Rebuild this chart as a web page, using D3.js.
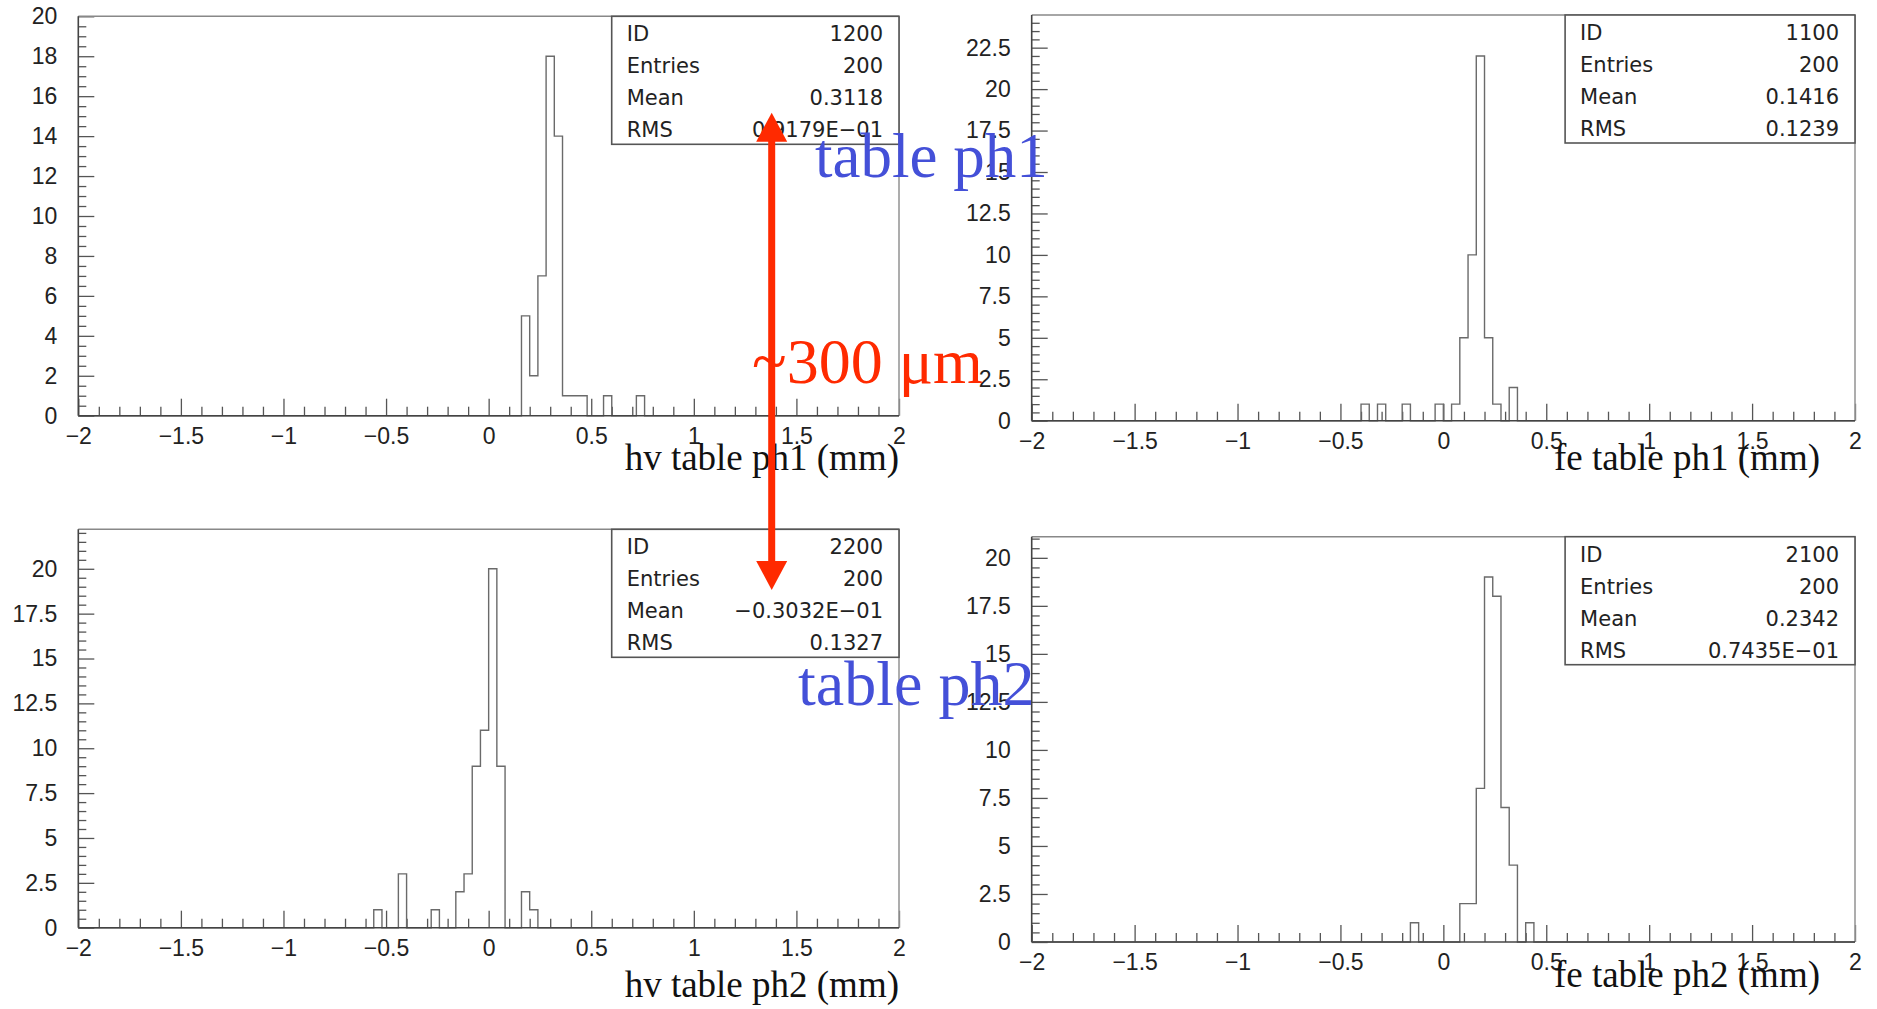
<!DOCTYPE html>
<html>
<head>
<meta charset="utf-8">
<script src="https://cdn.jsdelivr.net/npm/d3@7"></script>
<style>
  html, body { margin: 0; padding: 0; background: #fff; }
  svg { display: block; }
</style>
</head>
<body>
<svg id="chart" width="1877" height="1009"></svg>
<script>
// ---------------- DATA ----------------
// Histograms: 100 bins of width 0.04 from -2 to 2; only non-empty bins listed (lower edge, count)
const h1200Lo  = [0.16, 0.20, 0.24, 0.28, 0.32, 0.36, 0.40, 0.44, 0.56, 0.72];
const h1200Cnt = [5, 2, 7, 18, 14, 1, 1, 1, 1, 1];

const h1100Lo  = [-0.40, -0.32, -0.20, -0.04, 0.04, 0.08, 0.12, 0.16, 0.20, 0.24, 0.32];
const h1100Cnt = [1, 1, 1, 1, 1, 5, 10, 22, 5, 1, 2];

const h2200Lo  = [-0.56, -0.44, -0.28, -0.16, -0.12, -0.08, -0.04, 0.00, 0.04, 0.16, 0.20];
const h2200Cnt = [1, 3, 1, 2, 3, 9, 11, 20, 9, 2, 1];

const h2100Lo  = [-0.16, 0.08, 0.12, 0.16, 0.20, 0.24, 0.28, 0.32, 0.40];
const h2100Cnt = [1, 2, 2, 8, 19, 18, 7, 4, 1];

const xMin = -2, xMax = 2, binWidth = 0.04;
const xMajorTicks = [-2, -1.5, -1, -0.5, 0, 0.5, 1, 1.5, 2];
const xTickLabels = ["\u22122", "\u22121.5", "\u22121", "\u22120.5", "0", "0.5", "1", "1.5", "2"];

const yMaxes = [20, 24.47, 22.2, 21.1];
const yMajorStep = [2, 2.5, 2.5, 2.5];
const yMinorStep = 0.5;

const statLabels = ["ID", "Entries", "Mean", "RMS"];
const stats1200 = ["1200", "200", "0.3118", "0.9179E\u221201"];
const stats1100 = ["1100", "200", "0.1416", "0.1239"];
const stats2200 = ["2200", "200", "\u22120.3032E\u221201", "0.1327"];
const stats2100 = ["2100", "200", "0.2342", "0.7435E\u221201"];

const xTitles = ["hv table ph1 (mm)", "fe table ph1 (mm)", "hv table ph2 (mm)", "fe table ph2 (mm)"];
const annPh1 = "table ph1";
const annPh2 = "table ph2";
const annShift = "~300 \u03bcm";

// ---------------- LAYOUT ----------------
const panels = [
  { lo: h1200Lo, cnt: h1200Cnt, stats: stats1200, title: xTitles[0], ymax: yMaxes[0], ystep: yMajorStep[0],
    left: 78.3, right: 899, top: 16.3, bottom: 415.7, titleX: 899, titleY: 470 },
  { lo: h1100Lo, cnt: h1100Cnt, stats: stats1100, title: xTitles[1], ymax: yMaxes[1], ystep: yMajorStep[1],
    left: 1031.7, right: 1855, top: 15, bottom: 420.7, titleX: 1820, titleY: 470 },
  { lo: h2200Lo, cnt: h2200Cnt, stats: stats2200, title: xTitles[2], ymax: yMaxes[2], ystep: yMajorStep[2],
    left: 78.3, right: 899, top: 529.3, bottom: 927.7, titleX: 899, titleY: 997 },
  { lo: h2100Lo, cnt: h2100Cnt, stats: stats2100, title: xTitles[3], ymax: yMaxes[3], ystep: yMajorStep[3],
    left: 1031.7, right: 1855, top: 536.7, bottom: 942, titleX: 1820, titleY: 987 }
];

const svg = d3.select("#chart");
const TICK_FONT = "'Liberation Sans', Arial, Helvetica, sans-serif";
const STAT_FONT = "'DejaVu Sans', 'Noto Sans', sans-serif";
const SERIF = "'Liberation Serif', 'Times New Roman', serif";

function range(a, b, step) {
  const out = [];
  const n = Math.round((b - a) / step);
  for (let i = 0; i <= n; i++) out.push(+(a + i * step).toFixed(6));
  return out;
}

panels.forEach(p => {
  const g = svg.append("g");
  const x = d3.scaleLinear().domain([xMin, xMax]).range([p.left, p.right]);
  const y = d3.scaleLinear().domain([0, p.ymax]).range([p.bottom, p.top]);

  // full histogram (100 bins)
  const nb = Math.round((xMax - xMin) / binWidth);
  const counts = new Array(nb).fill(0);
  p.lo.forEach((lo, i) => {
    const k = Math.round((lo - xMin) / binWidth);
    counts[k] = p.cnt[i];
  });
  const pts = [];
  counts.forEach((c, k) => {
    const a = xMin + k * binWidth, b = a + binWidth;
    pts.push([a, c]); pts.push([b, c]);
  });
  pts.unshift([xMin, 0]);
  pts.push([xMax, 0]);

  // minor ticks x
  const xMinor = range(xMin, xMax, 0.1).filter(v => Math.abs(v * 2 - Math.round(v * 2)) > 1e-6);
  g.append("g")
    .attr("transform", `translate(0,${p.bottom})`)
    .call(d3.axisBottom(x).tickValues(xMinor).tickSize(-9).tickFormat(""))
    .call(s => s.select(".domain").remove())
    .call(s => s.selectAll("line").attr("stroke", "#555").attr("stroke-width", 1.3));
  g.append("g")
    .attr("transform", `translate(0,${p.bottom})`)
    .call(d3.axisBottom(x).tickValues(xMajorTicks).tickSize(-17).tickPadding(12)
      .tickFormat((d, i) => xTickLabels[i]))
    .call(s => s.select(".domain").remove())
    .call(s => s.selectAll("line").attr("stroke", "#555").attr("stroke-width", 1.3))
    .call(s => s.selectAll("text").attr("font-family", TICK_FONT).attr("font-size", 23).attr("fill", "#222"));

  // y ticks
  const yMajor = range(0, Math.floor(p.ymax / p.ystep) * p.ystep, p.ystep);
  const yMinor = range(0, Math.floor(p.ymax / yMinorStep) * yMinorStep, yMinorStep)
    .filter(v => !yMajor.some(m => Math.abs(m - v) < 1e-6));
  g.append("g")
    .attr("transform", `translate(${p.left},0)`)
    .call(d3.axisLeft(y).tickValues(yMinor).tickSize(-8).tickFormat(""))
    .call(s => s.select(".domain").remove())
    .call(s => s.selectAll("line").attr("stroke", "#555").attr("stroke-width", 1.3));
  g.append("g")
    .attr("transform", `translate(${p.left},0)`)
    .call(d3.axisLeft(y).tickValues(yMajor).tickSize(-16).tickPadding(21).tickFormat(d3.format("~g")))
    .call(s => s.select(".domain").remove())
    .call(s => s.selectAll("line").attr("stroke", "#555").attr("stroke-width", 1.3))
    .call(s => s.selectAll("text").attr("font-family", TICK_FONT).attr("font-size", 23).attr("fill", "#222"));

  // frame
  g.append("line").attr("x1", p.left).attr("x2", p.right).attr("y1", p.top).attr("y2", p.top)
    .attr("stroke", "#888").attr("stroke-width", 1.6);
  g.append("line").attr("x1", p.right).attr("x2", p.right).attr("y1", p.top).attr("y2", p.bottom)
    .attr("stroke", "#999").attr("stroke-width", 1.6);
  g.append("line").attr("x1", p.left).attr("x2", p.left).attr("y1", p.top).attr("y2", p.bottom)
    .attr("stroke", "#444").attr("stroke-width", 1.6);

  // histogram
  g.append("path")
    .datum(pts)
    .attr("d", d3.line().x(d => x(d[0])).y(d => y(d[1])))
    .attr("fill", "none")
    .attr("stroke", "#6a6a6a")
    .attr("stroke-width", 1.4);

  // bottom axis line
  g.append("line").attr("x1", p.left).attr("x2", p.right).attr("y1", p.bottom).attr("y2", p.bottom)
    .attr("stroke", "#444").attr("stroke-width", 1.6);

  // stats box
  const bx = p.left + (611.7 - 78.3), bw = p.right - bx, bh = 128;
  g.append("rect").attr("x", bx).attr("y", p.top).attr("width", bw).attr("height", bh)
    .attr("fill", "#fff").attr("stroke", "#555").attr("stroke-width", 1.6);
  statLabels.forEach((lab, i) => {
    const by = p.top + 25 + i * 32;
    g.append("text").attr("x", bx + 15).attr("y", by).text(lab)
      .attr("font-family", STAT_FONT).attr("font-size", 21).attr("fill", "#222");
    g.append("text").attr("x", p.right - 16).attr("y", by).text(p.stats[i])
      .attr("text-anchor", "end")
      .attr("font-family", STAT_FONT).attr("font-size", 21).attr("fill", "#222");
  });

  // axis title
  g.append("text").attr("x", p.titleX).attr("y", p.titleY).text(p.title)
    .attr("text-anchor", "end")
    .attr("font-family", SERIF).attr("font-size", 37).attr("fill", "#111");
});

// ---------------- ANNOTATIONS ----------------
const red = "#ff2a00", blue = "#4450d8";
const ax = 771.7, yTip1 = 112.7, yTip2 = 590, headH = 29, headW = 31;
svg.append("line").attr("x1", ax).attr("x2", ax).attr("y1", yTip1 + headH - 2).attr("y2", yTip2 - headH + 2)
  .attr("stroke", red).attr("stroke-width", 7);
svg.append("path")
  .attr("d", `M${ax},${yTip1} L${ax - headW / 2},${yTip1 + headH} L${ax + headW / 2},${yTip1 + headH} Z`)
  .attr("fill", red);
svg.append("path")
  .attr("d", `M${ax},${yTip2} L${ax - headW / 2},${yTip2 - headH} L${ax + headW / 2},${yTip2 - headH} Z`)
  .attr("fill", red);

svg.append("text").attr("x", 752).attr("y", 383).text(annShift)
  .attr("font-family", SERIF).attr("font-size", 64).attr("fill", red);
svg.append("text").attr("x", 815).attr("y", 177).text(annPh1)
  .attr("font-family", SERIF).attr("font-size", 63).attr("fill", blue);
svg.append("text").attr("x", 798).attr("y", 705).text(annPh2)
  .attr("font-family", SERIF).attr("font-size", 64).attr("fill", blue);
</script>
</body>
</html>
